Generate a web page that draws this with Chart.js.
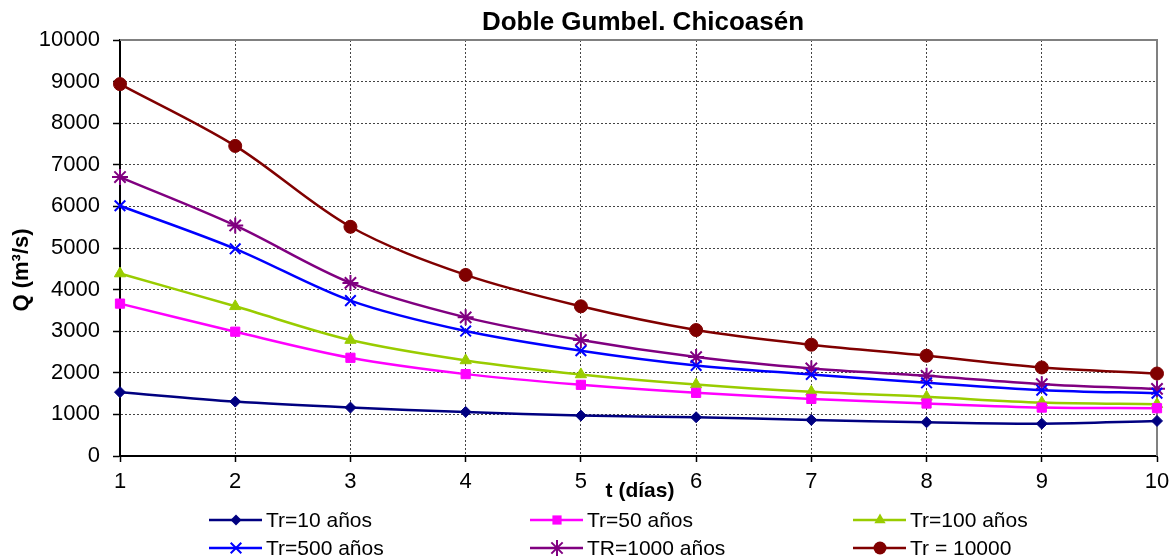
<!DOCTYPE html>
<html><head><meta charset="utf-8">
<script src="https://cdn.jsdelivr.net/npm/chart.js@4"></script>
<style>html,body{margin:0;padding:0;background:#fff;overflow:hidden}</style>
</head><body>
<canvas id="c" width="1174" height="560" style="width:1174px;height:560px;display:block"></canvas>
<script>
const days = [1, 2, 3, 4, 5, 6, 7, 8, 9, 10];
const seriesLabels = ['Tr=10 años', 'Tr=50 años', 'Tr=100 años', 'Tr=500 años', 'TR=1000 años', 'Tr = 10000'];
const tr10    = [1535, 1308, 1164, 1060, 971, 932, 867, 811, 778, 843];
const tr50    = [3663, 2988, 2361, 1968, 1711, 1518, 1373, 1261, 1164, 1149];
const tr100   = [4386, 3598, 2787, 2297, 1960, 1719, 1542, 1422, 1285, 1245];
const tr500   = [6016, 4980, 3735, 3004, 2530, 2176, 1960, 1759, 1583, 1510];
const tr1000  = [6706, 5542, 4161, 3333, 2787, 2378, 2104, 1928, 1727, 1614];
const tr10000 = [8940, 7454, 5510, 4353, 3598, 3028, 2675, 2410, 2128, 1983];
const yTicks = [0, 1000, 2000, 3000, 4000, 5000, 6000, 7000, 8000, 9000, 10000];
const chartTitle = 'Doble Gumbel. Chicoasén';
const xTitle = 't (días)';
const yTitle = 'Q (m³/s)';

const FONT = "'Liberation Sans', Arial, sans-serif";
const values = [tr10, tr50, tr100, tr500, tr1000, tr10000];
const colors = ['#000080', '#FF00FF', '#99CC00', '#0000FF', '#800080', '#800000'];
const styles = ['rectRot', 'rect', 'triangle', 'crossRot', 'star', 'circle'];
const radii  = [5.5, 6.5, 6.5, 7.5, 8, 6.5];

const datasets = values.map((arr, i) => ({
  label: seriesLabels[i],
  data: days.map((d, k) => ({x: d, y: arr[k]})),
  borderColor: colors[i],
  backgroundColor: colors[i],
  pointBackgroundColor: colors[i],
  pointBorderColor: colors[i],
  pointStyle: styles[i],
  pointRadius: radii[i],
  pointBorderWidth: (styles[i] === 'crossRot' || styles[i] === 'star') ? 2 : 1,
  borderWidth: 2.5,
  tension: 0.33,
  fill: false,
  clip: false
}));

function drawMarker(ctx, style, x, y, r, color, bw) {
  ctx.save();
  ctx.fillStyle = color; ctx.strokeStyle = color; ctx.lineWidth = bw;
  ctx.beginPath();
  if (style === 'circle') { ctx.arc(x, y, r, 0, Math.PI * 2); ctx.fill(); }
  else if (style === 'rect') { const s = r * Math.SQRT1_2; ctx.rect(x - s, y - s, 2 * s, 2 * s); ctx.fill(); }
  else if (style === 'rectRot') { const s = r; ctx.moveTo(x, y - s); ctx.lineTo(x + s, y); ctx.lineTo(x, y + s); ctx.lineTo(x - s, y); ctx.closePath(); ctx.fill(); }
  else if (style === 'triangle') { ctx.moveTo(x, y - r); ctx.lineTo(x + r * 0.866, y + r * 0.5); ctx.lineTo(x - r * 0.866, y + r * 0.5); ctx.closePath(); ctx.fill(); }
  else if (style === 'crossRot') { const s = r * 0.707; ctx.moveTo(x - s, y - s); ctx.lineTo(x + s, y + s); ctx.moveTo(x + s, y - s); ctx.lineTo(x - s, y + s); ctx.stroke(); }
  else if (style === 'star') { const s = r * 0.707; ctx.moveTo(x - s, y - s); ctx.lineTo(x + s, y + s); ctx.moveTo(x + s, y - s); ctx.lineTo(x - s, y + s); ctx.moveTo(x, y - r); ctx.lineTo(x, y + r); ctx.stroke(); }
  ctx.restore();
}

const decor = {
  id: 'decor',
  beforeDatasetsDraw(chart) {
    const {ctx, chartArea: a} = chart;
    ctx.save();
    ctx.strokeStyle = '#808080'; ctx.lineWidth = 2;
    ctx.beginPath();
    ctx.moveTo(a.left, a.top); ctx.lineTo(a.right, a.top); ctx.lineTo(a.right, a.bottom);
    ctx.stroke();
    ctx.restore();
  },
  afterDraw(chart) {
    const {ctx} = chart;
    ctx.save();
    ctx.fillStyle = '#000';
    ctx.textAlign = 'center'; ctx.textBaseline = 'alphabetic';
    ctx.font = 'bold 26px ' + FONT;
    ctx.fillText(chartTitle, 643, 30);
    ctx.font = 'bold 21px ' + FONT;
    ctx.textBaseline = 'middle';
    ctx.fillText(xTitle, 640, 491);
    ctx.save();
    ctx.translate(22, 270); ctx.rotate(-Math.PI / 2);
    ctx.font = 'bold 22px ' + FONT;
    ctx.fillText(yTitle, 0, 0);
    ctx.restore();
    // legend
    const colX = [209, 530, 853];
    const rowY = [520, 548];
    ctx.font = '21px ' + FONT;
    ctx.textAlign = 'left'; ctx.textBaseline = 'middle';
    chart.data.datasets.forEach((ds, i) => {
      const x0 = colX[i % 3], y = rowY[Math.floor(i / 3)];
      ctx.strokeStyle = ds.borderColor; ctx.lineWidth = 2.5;
      ctx.beginPath(); ctx.moveTo(x0, y); ctx.lineTo(x0 + 53, y); ctx.stroke();
      drawMarker(ctx, ds.pointStyle, x0 + 27, y, ds.pointRadius, ds.borderColor, ds.pointBorderWidth);
      ctx.fillStyle = '#000';
      ctx.fillText(ds.label, x0 + 57, y + 1);
    });
    ctx.restore();
  }
};

new Chart(document.getElementById('c'), {
  type: 'line',
  data: {datasets},
  options: {
    responsive: false,
    animation: false,
    events: [],
    layout: {padding: {left: 0, right: 17, top: 40, bottom: 0}},
    plugins: {legend: {display: false}, title: {display: false}, tooltip: {enabled: false}},
    scales: {
      x: {
        type: 'linear', min: 1, max: 10,
        afterFit(s) { s.height = 104; s.paddingLeft = 0; s.paddingRight = 0; },
        afterBuildTicks(s) { s.ticks = days.map(v => ({value: v})); },
        ticks: {font: {family: FONT, size: 22}, color: '#000', padding: 7, maxRotation: 0, autoSkip: false, callback: v => String(v)},
        grid: {color: '#444', lineWidth: 1, tickLength: 6, tickColor: '#000', tickWidth: 1.5},
        border: {color: '#000', width: 2, dash: [2, 2]}
      },
      y: {
        min: 0, max: 10000,
        afterFit(s) { s.width = 120; },
        afterBuildTicks(s) { s.ticks = yTicks.map(v => ({value: v})); },
        ticks: {font: {family: FONT, size: 22}, color: '#000', padding: 13, callback: v => String(v)},
        grid: {color: '#444', lineWidth: 1, tickLength: 7, tickColor: '#000', tickWidth: 1.5},
        border: {color: '#000', width: 2, dash: [2, 2]}
      }
    }
  },
  plugins: [decor]
});
</script>
</body></html>
